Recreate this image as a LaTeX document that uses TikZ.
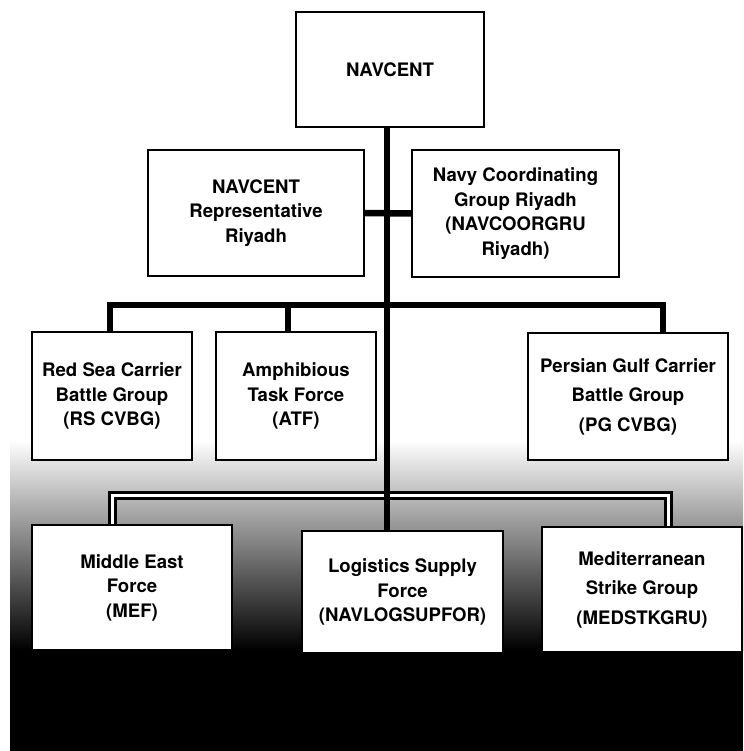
\documentclass[tikz,border=0pt]{standalone}
\usepackage{fontspec}
\setmainfont{TeX Gyre Heros}
\usetikzlibrary{positioning,calc,backgrounds}

\begin{document}
\begin{tikzpicture}[x=1pt, y=-1pt,
    unit/.style={rectangle, draw=black, line width=2pt, fill=white, align=center, inner sep=0pt, outer sep=0pt, font=\bfseries\fontsize{18.6}{24.5}\selectfont},
    wide/.style={font=\bfseries\fontsize{18.6}{29.5}\selectfont},
    link/.style={draw, line width=6.5pt, color=black},
    bus/.style={draw, line width=3pt, double=white, double distance=3pt}
]
    \useasboundingbox (0,0) rectangle (743,751);

    % Top
    \node[unit, minimum width=188pt, minimum height=115pt] (navcent) at (390,69.5) {NAVCENT};

    % Staff in Riyadh
    \node[unit, minimum width=216pt, minimum height=126pt] (rep) at (256,213) {NAVCENT\\Representative\\Riyadh};
    \node[unit, minimum width=207pt, minimum height=127pt] (coord) at (515.5,213.5) {Navy Coordinating\\Group Riyadh\\(NAVCOORGRU\\Riyadh)};

    % Gulf forces
    \node[unit, minimum width=160pt, minimum height=128pt] (redsea) at (112,396) {Red Sea Carrier\\Battle Group\\(RS CVBG)};
    \node[unit, minimum width=160pt, minimum height=128pt, right=24pt of redsea] (amph) {Amphibious\\Task Force\\(ATF)};
    \node[unit, wide, minimum width=200pt, minimum height=127pt] (pg) at (628,396.5) {Persian Gulf Carrier\\Battle Group\\(PG CVBG)};

    % Support forces
    \node[unit, minimum width=200pt, minimum height=125pt] (mef) at (132,587.5) {Middle East\\Force\\(MEF)};
    \node[unit, minimum width=201pt, minimum height=122pt] (logi) at (402.5,592) {Logistics Supply\\Force\\(NAVLOGSUPFOR)};
    \node[unit, wide, minimum width=200pt, minimum height=125pt] (med) at (642,589.5) {Mediterranean\\Strike Group\\(MEDSTKGRU)};

    % Bus points
    \coordinate (stem) at (387,0);
    \coordinate (busL) at (110,305);
    \coordinate (busR) at (663,305);
    \coordinate (atfdrop) at (288,305);
    \coordinate (lowL) at (112.5,495);
    \coordinate (lowR) at (668.5,495);

    % Connections
    \begin{scope}[on background layer]
        \shade[top color=white, middle color=black!40, bottom color=black] (10,440) rectangle (743,650);
        \fill[black] (10,649) rectangle (743,751);
        \path[bus] (lowL |- mef.north) -- (lowL) -- (lowR) -- (lowR |- med.north);
        \path[link] (stem |- navcent.south) -- (stem |- logi.north);
        \path[link] (rep.east) -- (coord.west);
        \path[link] (busL |- redsea.north) -- (busL) -- (busR) -- (busR |- pg.north);
        \path[link] (atfdrop) -- (atfdrop |- amph.north);
    \end{scope}

\end{tikzpicture}
\end{document}
